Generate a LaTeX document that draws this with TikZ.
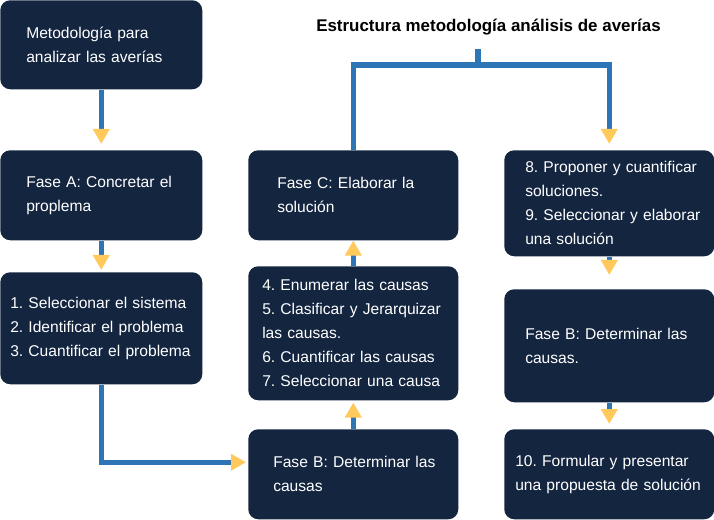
\documentclass[tikz,border=0pt]{standalone}
\usepackage{fontspec}
\setmainfont{Liberation Sans}
\usetikzlibrary{arrows.meta,positioning}
\definecolor{boxnavy}{RGB}{20,37,64}
\definecolor{lineblue}{RGB}{46,117,182}
\definecolor{tipyellow}{RGB}{255,201,92}
\frenchspacing

\begin{document}
\begin{tikzpicture}[x=0.75pt, y=-0.75pt,
  box/.style={fill=boxnavy, rounded corners=7.5pt, text=white, anchor=north west,
    font=\fontsize{11.7}{18}\selectfont, align=left, inner xsep=0pt, inner ysep=0pt},
  inset/.style={execute at begin node={\leftskip=#1}},
  line/.style={draw=lineblue, line width=4pt},
  flow/.style={line, -{Triangle[width=12pt, length=11.25pt, color=tipyellow]}}]

  \useasboundingbox (0,0) rectangle (714,520);

  \node [box, text width=151.5pt, minimum height=66.75pt, inset=19.5pt] (A) at (0,0) {Metodología para\\analizar las averías};
  \node [box, text width=151.5pt, minimum height=67.5pt, inset=19.5pt] (B) at (0,150) {Fase A: Concretar el\\proplema};
  \node [box, text width=151.5pt, minimum height=84pt, inset=7.5pt] (C) at (0,272) {1. Seleccionar el sistema\\2. Identificar el problema\\3. Cuantificar el problema};

  \node [box, text width=157.5pt, minimum height=67.5pt, inset=18.75pt] (D) at (248,429) {Fase B: Determinar las\\causas};
  \node [box, text width=157.5pt, minimum height=100.5pt, inset=10.5pt] (E) at (248,266) {4. Enumerar las causas\\5. Clasificar y Jerarquizar\\las causas.\\6. Cuantificar las causas\\7. Seleccionar una causa};
  \node [box, text width=157.5pt, minimum height=67.5pt, inset=21.75pt] (F) at (248,150) {Fase C: Elaborar la\\solución};

  \node [box, text width=157.5pt, minimum height=79.5pt, inset=15.75pt] (G) at (504,150) {8. Proponer y cuantificar\\soluciones.\\9. Seleccionar y elaborar\\una solución};
  \node [box, text width=157.5pt, minimum height=84.75pt, inset=15.75pt] (H) at (504,289) {Fase B: Determinar las\\causas.};
  \node [box, text width=157.5pt, minimum height=67.5pt, inset=8.25pt] (I) at (504,429) {10. Formular y presentar\\una propuesta de solución};

  \node [font=\fontsize{12.7}{15}\selectfont\bfseries] (T) at (488.5,27) {Estructura metodología análisis de averías};
  \coordinate (Ts) at (478,49);
  \coordinate (Tm) at (478,65);

  \draw [flow, shorten >=4.5pt] (A) -- (B);
  \draw [flow, shorten >=1.5pt] (B) -- (C);
  \draw [flow, shorten >=1.5pt] (C.south) |- ([yshift=9pt]D.west);
  \draw [flow, shorten >=1.5pt] (D) -- (E);
  \draw [flow] (E) -- (F);
  \draw [line] (Ts) -- (Tm);
  \draw [flow, shorten >=4.5pt] (F.north) |- (Tm) -| (G.north);
  \draw [flow, shorten >=10.5pt] (G) -- (H);
  \draw [flow, shorten >=3.75pt] (H) -- (I);
\end{tikzpicture}
\end{document}
